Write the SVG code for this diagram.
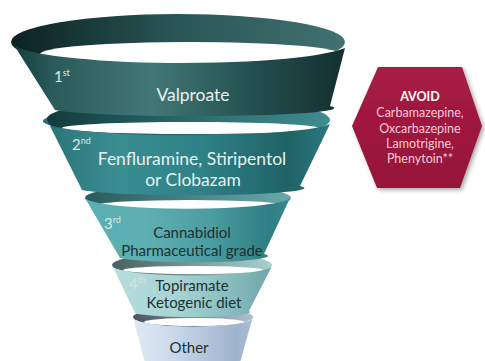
<svg xmlns="http://www.w3.org/2000/svg" width="485" height="361" viewBox="0 0 485 361">
<defs>
<linearGradient id="b1" x1="12" y1="0" x2="345" y2="0" gradientUnits="userSpaceOnUse"><stop offset="0" stop-color="#0c2222"/><stop offset="0.5" stop-color="#2a5656"/><stop offset="1" stop-color="#417170"/></linearGradient>
<linearGradient id="f1" x1="12" y1="0" x2="345" y2="0" gradientUnits="userSpaceOnUse"><stop offset="0" stop-color="#173c3c"/><stop offset="0.12" stop-color="#2a5a5a"/><stop offset="0.42" stop-color="#417877"/><stop offset="0.72" stop-color="#23504f"/><stop offset="1" stop-color="#142f2f"/></linearGradient>
<linearGradient id="b2" x1="46" y1="0" x2="330" y2="0" gradientUnits="userSpaceOnUse"><stop offset="0" stop-color="#123a3c"/><stop offset="0.5" stop-color="#2a6a6c"/><stop offset="1" stop-color="#3f8c8e"/></linearGradient>
<linearGradient id="f2" x1="46" y1="0" x2="330" y2="0" gradientUnits="userSpaceOnUse"><stop offset="0" stop-color="#2a7378"/><stop offset="0.25" stop-color="#3a8d91"/><stop offset="0.55" stop-color="#2e8186"/><stop offset="0.85" stop-color="#1f6266"/><stop offset="1" stop-color="#2a7a7e"/></linearGradient>
<linearGradient id="b3" x1="85" y1="0" x2="290" y2="0" gradientUnits="userSpaceOnUse"><stop offset="0" stop-color="#2b5a5c"/><stop offset="1" stop-color="#6aa8ab"/></linearGradient>
<linearGradient id="f3" x1="85" y1="0" x2="290" y2="0" gradientUnits="userSpaceOnUse"><stop offset="0" stop-color="#5aaeb1"/><stop offset="0.3" stop-color="#5eb0b3"/><stop offset="0.62" stop-color="#4a9ca0"/><stop offset="0.9" stop-color="#2f7e83"/><stop offset="1" stop-color="#3a8a8e"/></linearGradient>
<linearGradient id="b4" x1="112" y1="0" x2="272" y2="0" gradientUnits="userSpaceOnUse"><stop offset="0" stop-color="#4a6060"/><stop offset="1" stop-color="#a8d0d0"/></linearGradient>
<linearGradient id="f4" x1="112" y1="0" x2="272" y2="0" gradientUnits="userSpaceOnUse"><stop offset="0" stop-color="#b8dede"/><stop offset="0.4" stop-color="#a8d4d4"/><stop offset="0.8" stop-color="#82b8ba"/><stop offset="1" stop-color="#6fa5a8"/></linearGradient>
<linearGradient id="b5" x1="133" y1="0" x2="253" y2="0" gradientUnits="userSpaceOnUse"><stop offset="0" stop-color="#4a5560"/><stop offset="1" stop-color="#b0c0d0"/></linearGradient>
<linearGradient id="f5" x1="133" y1="0" x2="253" y2="0" gradientUnits="userSpaceOnUse"><stop offset="0" stop-color="#e0eaf5"/><stop offset="0.4" stop-color="#c5d5e8"/><stop offset="0.85" stop-color="#9fb3cc"/><stop offset="1" stop-color="#a8bcd4"/></linearGradient>
<linearGradient id="hexg" x1="0" y1="0" x2="0" y2="1"><stop offset="0" stop-color="#a81c45"/><stop offset="1" stop-color="#951338"/></linearGradient>
<filter id="sh" x="-10%" y="-10%" width="125%" height="125%"><feDropShadow dx="2" dy="2" stdDeviation="2" flood-color="#000" flood-opacity="0.35"/></filter>
</defs>
<style>
text{font-family:Lato,"Liberation Sans",sans-serif;text-anchor:middle}
.hole{fill:#ffffff}
.lt{fill:#e8f1f1;font-size:17.5px}
.dk{fill:#1c3132;font-size:15px}
.ord{fill:#dce9e9;font-size:15px;text-anchor:start}
.sup{font-size:9px}
.hx{fill:#f4ccd8;font-size:12.5px}
.hxb{fill:#ffffff;font-size:12.5px;font-weight:bold}
</style>
<rect width="485" height="361" fill="#ffffff"/>

<g id="tier5">
<ellipse cx="193" cy="317" rx="60" ry="10" fill="url(#b5)"/>
<ellipse class="hole" cx="194" cy="322" rx="50" ry="4"/>
<path d="M133,318 A60,10 0 0 0 253,316 L238,370 L147,370 Z" fill="url(#f5)"/>
<text class="dk" x="189" y="353">Other</text>
</g>

<g id="tier4">
<ellipse cx="192" cy="265" rx="80" ry="12" fill="url(#b4)"/>
<ellipse class="hole" cx="193" cy="270" rx="70" ry="4"/>
<path d="M112,265 A80,10 0 0 0 272,266 L249,311 A57,5 0 0 1 135,313 Z" fill="url(#f4)"/>
<text class="ord" x="129" y="289" fill-opacity="0.8">4<tspan class="sup" dy="-6">th</tspan></text>
<text class="dk" x="192" y="291">Topiramate</text>
<text class="dk" x="194" y="308">Ketogenic diet</text>
</g>

<g id="tier3">
<ellipse cx="188" cy="198" rx="103" ry="14" fill="url(#b3)"/>
<ellipse class="hole" cx="190" cy="205" rx="92" ry="5"/>
<path d="M85,198 A103,12 0 0 0 290,198 L264,254 A73,6 0 0 1 120,258 Z" fill="url(#f3)"/>
<text class="ord" x="104" y="229">3<tspan class="sup" dy="-6">rd</tspan></text>
<text class="dk" x="192" y="238">Cannabidiol</text>
<text class="dk" x="192" y="256">Pharmaceutical grade</text>
</g>

<g id="tier2">
<ellipse cx="188" cy="120" rx="142" ry="22" fill="url(#b2)"/>
<ellipse class="hole" cx="190" cy="128" rx="128" ry="6"/>
<path d="M46,118 A142,14 0 0 0 330,124 L300,186 A110,7 0 0 1 82,190 Z" fill="url(#f2)"/>
<text class="ord" x="72" y="150">2<tspan class="sup" dy="-6">nd</tspan></text>
<text class="lt" x="192" y="165">Fenfluramine, Stiripentol</text>
<text class="lt" x="193" y="186">or Clobazam</text>
</g>

<g id="tier1">
<ellipse cx="178" cy="42" rx="167" ry="28" fill="url(#b1)"/>
<ellipse class="hole" cx="190" cy="54" rx="150" ry="12"/>
<path d="M12,42 A170,21 0 0 0 345,48 L330,106 A140,8 0 0 1 55,110 Z" fill="url(#f1)"/>
<text class="ord" x="54" y="82">1<tspan class="sup" dy="-6">st</tspan></text>
<text class="lt" x="193" y="101">Valproate</text>
</g>

<g id="avoid">
<polygon points="352,126 378,67 462,67 482,126 460,188 377,188" fill="url(#hexg)" filter="url(#sh)"/>
<text class="hxb" x="420" y="101">AVOID</text>
<text class="hx" x="420" y="117">Carbamazepine,</text>
<text class="hx" x="420" y="133">Oxcarbazepine</text>
<text class="hx" x="420" y="148">Lamotrigine,</text>
<text class="hx" x="420" y="163">Phenytoin**</text>
</g>
</svg>
